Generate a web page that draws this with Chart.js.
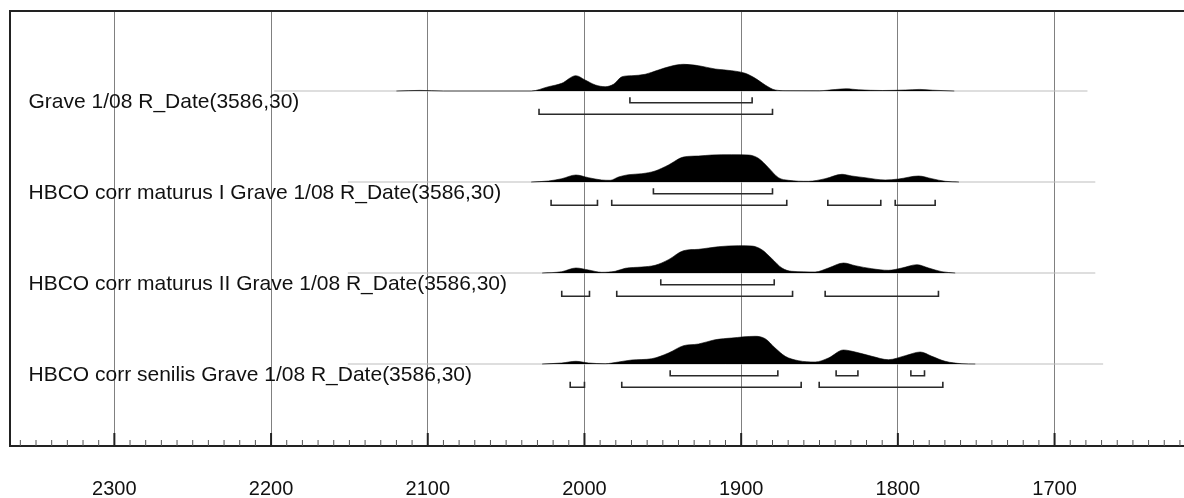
<!DOCTYPE html>
<html><head><meta charset="utf-8">
<script src="https://cdn.jsdelivr.net/npm/chart.js@4/dist/chart.umd.min.js"></script>
<style>html,body{margin:0;padding:0;background:#fff;overflow:hidden}#wrap{width:1184px;height:498px;position:relative}</style>
</head><body><div id="wrap"><canvas id="c" width="1184" height="498"></canvas></div>
<script>
// ---------- DATA ----------
const rowLabels = [
  "Grave 1/08 R_Date(3586,30)",
  "HBCO corr maturus I Grave 1/08 R_Date(3586,30)",
  "HBCO corr maturus II Grave 1/08 R_Date(3586,30)",
  "HBCO corr senilis Grave 1/08 R_Date(3586,30)"
];
const tickYears = [2300, 2200, 2100, 2000, 1900, 1800, 1700];
const axisMin = 1617.4, axisMax = 2366.6;

// probability density (relative heights)
const years1 = [2120,2105,2090,2034,2023,2014.5,2005.5,1999.6,1993,1986.8,1981.5,1976,1969.8,1961.3,1952.8,1944.3,1936.8,1927.2,1916.6,1906,1897.4,1891,1884.7,1878.3,1872,1850,1840,1833,1825,1810,1795,1786,1778,1764];
const dens1  = [0,0.6,0,0,4.3,7.7,15.3,11,6,4.3,6.7,14.3,15.3,16.7,21,25,26.7,25.3,22,20.3,17.7,12.7,6,1,0.3,0.2,1.5,2.2,1.2,0.5,1,1.6,0.8,0];

const years2 = [2034,2023,2014.5,2005.5,1997.4,1989,1983.6,1978.3,1971.9,1963.4,1954.9,1946.4,1936.8,1927.2,1918.7,1906,1895.3,1889,1882.6,1876.2,1869.8,1857,1846.4,1835.7,1829.4,1820.9,1808.1,1799.6,1786.8,1778.3,1769.8,1761];
const dens2  = [0,1,3.3,7,4.3,2,1.7,5,7.3,8.3,11,17,25,26,27,27.3,27,23.7,14.3,4.3,1.7,0.7,3.3,7.7,6,4.3,2,3,6,3.3,0.7,0];

const years3 = [2027,2014.5,2005.5,1997.4,1989,1980.4,1974,1963.4,1954.9,1946.4,1936.8,1927.2,1914.5,1901.7,1893.2,1886.8,1880.4,1874,1867.7,1852.8,1844.3,1834.7,1827.2,1816.6,1806,1797.4,1787.9,1780.4,1771.9,1763.4];
const dens3  = [0,1.3,5,3,0.7,1.7,4.7,6,7.7,13.3,22.3,23.7,26.3,27.3,27,23.3,14.3,5,1.7,1,5,10,7.3,4.3,2.7,5,8.3,5,1.3,0];

const years4 = [2027,2014.5,2005.5,1997.4,1986.8,1978.3,1969.8,1957,1946.4,1936.8,1927.2,1916.6,1906,1891.1,1884.7,1878.3,1871.9,1863.4,1852.8,1844.3,1834.7,1827.2,1816.6,1806,1795.3,1785.7,1778.3,1769.8,1759.1,1750.6];
const dens4  = [0,1,2.7,1,0.3,2,4,5.3,11,18.3,20,24.3,26,27.7,25.3,16,7.7,3.3,2,6,14,12,7.7,4.3,8.3,12,7.7,2.7,0.3,0];

// extent of each plotted distribution (years)
const spanStart = [2198, 2151, 2151, 2151];
const spanEnd   = [1679, 1674, 1674, 1669];

// 68.2% (inner) and 95.4% (outer) ranges, [from, to] years
const inner1 = [[1971,1893]];
const outer1 = [[2029,1880]];
const inner2 = [[1956,1880]];
const outer2 = [[2021.3,1991.7],[1982.6,1870.9],[1844.7,1810.9],[1801.7,1776.2]];
const inner3 = [[1951.3,1878.9]];
const outer3 = [[2014.5,1996.8],[1979.4,1867.2],[1846.4,1774.1]];
const inner4 = [[1945.3,1876.6],[1839.4,1825.5],[1791.7,1783]];
const outer4 = [[2009.1,2000],[1976.2,1861.7],[1850.2,1771.3]];

// ---------- LAYOUT ----------
const Y_MAX = 435, ROW0 = 80, ROW_STEP = 91;
const LABEL_DY = 10.8, INNER_DY = 11.7, OUTER_DY = 23.3, HOOK = 5.5;
const rowsY = [years1, years2, years3, years4];
const rowsD = [dens1, dens2, dens3, dens4];
const rowsIn = [inner1, inner2, inner3, inner4];
const rowsOut = [outer1, outer2, outer3, outer4];

const datasets = [];
rowsY.forEach((yrs, r) => {
  const B = ROW0 + r * ROW_STEP;
  datasets.push({
    data: [{x: spanStart[r], y: B}, {x: spanEnd[r], y: B}],
    borderColor: '#bdbdbd', borderWidth: 1, pointRadius: 0, fill: false, order: 3
  });
  datasets.push({
    data: yrs.map((x, i) => ({x, y: B - rowsD[r][i]})),
    borderColor: '#000', borderWidth: 0.6, backgroundColor: '#000',
    fill: {value: B}, pointRadius: 0, cubicInterpolationMode: 'monotone', order: 2
  });
  [[rowsIn[r], INNER_DY], [rowsOut[r], OUTER_DY]].forEach(([segs, dy]) => {
    const Y = B + dy, pts = [];
    segs.forEach(([a, b]) => {
      pts.push({x: a, y: Y - HOOK}, {x: a, y: Y}, {x: b, y: Y}, {x: b, y: Y - HOOK}, {x: b, y: null});
    });
    datasets.push({
      data: pts, borderColor: '#2a2a2a', borderWidth: 1.6, pointRadius: 0,
      fill: false, spanGaps: false, tension: 0, order: 1
    });
  });
});

const frame = {
  id: 'frame',
  afterDraw(chart) {
    const {ctx, chartArea} = chart;
    const xs = chart.scales.x;
    ctx.save();
    ctx.strokeStyle = '#222';
    ctx.lineWidth = 2;
    ctx.beginPath();
    ctx.moveTo(chartArea.left - 1, chartArea.top);
    ctx.lineTo(chart.width, chartArea.top);
    ctx.stroke();
    xs.ticks.forEach(t => {
      const px = xs.getPixelForValue(t.value);
      const major = t.value % 100 === 0;
      ctx.lineWidth = major ? 2 : 1;
      ctx.strokeStyle = major ? '#222' : '#555';
      ctx.beginPath();
      ctx.moveTo(px, chartArea.bottom);
      ctx.lineTo(px, chartArea.bottom - (major ? 13 : 6));
      ctx.stroke();
    });
    ctx.restore();
  }
};

function noPad(s) { s.paddingTop = 0; s.paddingBottom = 0; s.paddingLeft = 0; s.paddingRight = 0; }

new Chart(document.getElementById('c'), {
  type: 'line',
  data: {datasets},
  plugins: [frame],
  options: {
    responsive: false, animation: false, parsing: true,
    layout: {padding: {left: 10, top: 11, right: 0, bottom: 0}},
    plugins: {legend: {display: false}, tooltip: {enabled: false}},
    scales: {
      x: {
        type: 'linear', reverse: true, min: axisMin, max: axisMax,
        afterBuildTicks: s => {
          const t = [];
          for (let v = Math.ceil(axisMin / 10) * 10; v <= axisMax; v += 10) t.push({value: v});
          s.ticks = t;
        },
        afterFit: s => { s.height = 52; noPad(s); },
        grid: {
          drawTicks: false, lineWidth: 1,
          color: c => (c.tick && tickYears.includes(c.tick.value)) ? '#808080' : 'rgba(0,0,0,0)'
        },
        border: {display: true, color: '#222', width: 2},
        ticks: {
          autoSkip: false, maxRotation: 0, padding: 31, color: '#111',
          font: {family: 'Arial, "Liberation Sans", sans-serif', size: 20},
          callback: v => tickYears.includes(v) ? String(v) : ''
        }
      },
      y: {
        type: 'linear', reverse: true, min: 0, max: Y_MAX,
        afterBuildTicks: s => { s.ticks = rowLabels.map((_, r) => ({value: ROW0 + r * ROW_STEP + LABEL_DY})); },
        afterFit: s => { s.width = 0; noPad(s); },
        grid: {display: false, drawTicks: false},
        border: {display: true, color: '#222', width: 2},
        ticks: {
          mirror: true, crossAlign: 'near', padding: 18.5, color: '#111', autoSkip: false,
          font: {family: 'Arial, "Liberation Sans", sans-serif', size: 21},
          callback: (v, i) => rowLabels[i]
        }
      }
    }
  }
});
</script></body></html>
